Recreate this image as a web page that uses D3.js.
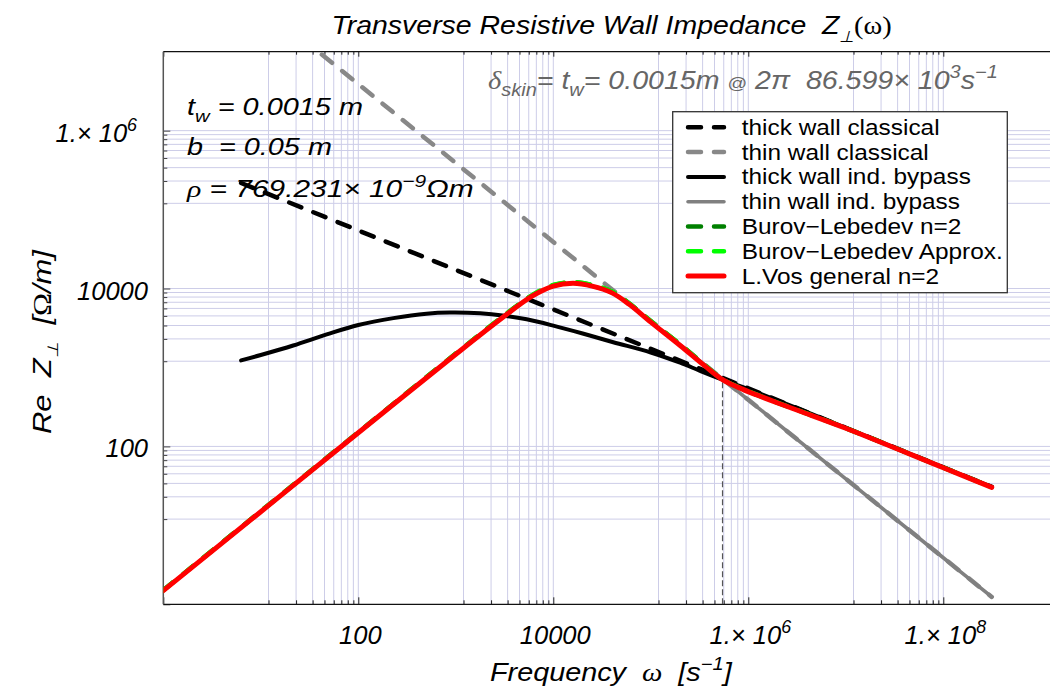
<!DOCTYPE html>
<html>
<head>
<meta charset="utf-8">
<script src="https://cdn.jsdelivr.net/npm/d3@7"></script>
<style>
  body { margin: 0; background: #fff; }
  text { font-family: "Liberation Sans", Arial, Helvetica, sans-serif; white-space: pre; }
</style>
</head>
<body>
<svg id="chart" width="1050" height="692"></svg>
<script>
// ---- Data: angular frequency ω [1/s] and Re Z⊥ [Ω/m] per model ----
const omegaThickClassical = [6.28, 10, 100, 1e3, 1e4, 1e5, 1e6, 1e7, 1e8, 3.14e8];
const zThickClassical     = [2.17e5, 1.72e5, 5.44e4, 1.72e4, 5440, 1720, 544, 172, 54.4, 30.7];

const omegaThinClassical  = [6.28, 10, 100, 1e3, 1e4, 1e5, 1e6, 1e7, 1e8, 3.14e8];
const zThinClassical      = [6.2e7, 3.89e7, 3.89e6, 3.89e5, 3.89e4, 3890, 389, 38.9, 3.89, 1.24];

const omegaThickBypass = [6.28, 10, 21.5, 47.4, 100, 229, 501, 871, 1780, 3160, 5330, 1e4, 2e4, 4.12e4, 1e5, 2e5, 3.16e5, 5.44e5, 1e6, 3.16e6, 1e7, 1e8, 3.14e8];
const zThickBypass     = [1230, 1440, 1900, 2620, 3450, 4220, 4800, 4960, 4853, 4519, 4074, 3388, 2692, 2089, 1549, 1148, 912, 700, 531, 305, 172, 54.3, 30.7];

const omegaThinBypass = [1, 10, 100, 1e3, 3e3, 6e3, 1e4, 1.6e4, 2.5e4, 4e4, 6e4, 1e5, 2e5, 3.5e5, 5.44e5, 1e6, 1e7, 1e8, 3.14e8];
const zThinBypass     = [1.49, 14.9, 149, 1472, 4266, 7943, 10720, 11640, 10720, 8810, 6310, 3758, 1928, 1104, 713, 389, 38.9, 3.89, 1.24];

const omegaGeneral = [1, 10, 100, 1e3, 3e3, 6e3, 1e4, 1.6e4, 2.5e4, 4e4, 6e4, 1e5, 2e5, 3.5e5, 5.44e5, 8e5, 1.2e6, 2e6, 3.4e6, 1e7, 1e8, 3.14e8];
const zBurovLebedev   = [1.51, 15.1, 151, 1500, 4365, 8128, 11000, 11960, 11050, 9080, 6457, 3846, 1950, 1090, 707, 561, 457, 358, 281, 171, 54.0, 30.5];
const zBurovApprox    = [1.51, 15.1, 151, 1500, 4385, 8180, 11100, 12050, 11130, 9150, 6500, 3870, 1960, 1092, 707, 560, 456, 357, 280, 170, 53.9, 30.4];
const zVosGeneral     = [1.49, 14.9, 149, 1472, 4266, 7943, 10720, 11640, 10720, 8810, 6310, 3758, 1897, 1072, 700, 556, 452, 355, 279, 170, 53.7, 30.3];

// skin depth equals wall thickness at ω = 2π·86.599e3 s⁻¹
const skinOmega = 5.441e5;
const skinZ = 700;

// axis ticks
const xMajorTicks = [1, 100, 1e4, 1e6, 1e8];
const xTickLabels = [null, ["100"], ["10000"], ["1.\u00d7 10", "6"], ["1.\u00d7 10", "8"]];
const yMajorTicks = [1, 100, 1e4, 1e6];
const yTickLabels = [null, ["100"], ["10000"], ["1.\u00d7 10", "6"]];

const legendNames = ["thick wall classical", "thin wall classical", "thick wall ind. bypass",
  "thin wall ind. bypass", "Burov\u2212Lebedev n=2", "Burov\u2212Lebedev Approx.", "L.Vos general n=2"];

// ---- Layout ----
const svg = d3.select("#chart");
const X0 = 163.3, XR = 1050, Y0 = 604.3, Y1 = 51.7;
const x = d3.scaleLog().domain([1, 1e9]).range([X0, X0 + 9 * 97.5]);
const y = d3.scaleLog().domain([1, 1e7]).range([Y0, Y1]);

const gridColor = "#cdcde8";
const minorsOf = majors => majors.flatMap(m => d3.range(1, 9).map(k => m * (1 + 11 * k)));
const xMinor = minorsOf(xMajorTicks).filter(v => x(v) < XR - 3);
const yMinor = minorsOf(yMajorTicks).filter(v => y(v) > Y1);

// grid lines at every tick
const grid = svg.append("g");
grid.selectAll("line.v").data(xMajorTicks.concat(xMinor).filter(v => v > 1)).join("line")
  .attr("x1", d => x(d)).attr("x2", d => x(d)).attr("y1", Y1).attr("y2", Y0)
  .attr("stroke", gridColor).attr("stroke-width", 1);
grid.selectAll("line.h").data(yMajorTicks.concat(yMinor).filter(v => v > 1)).join("line")
  .attr("x1", X0).attr("x2", XR).attr("y1", d => y(d)).attr("y2", d => y(d))
  .attr("stroke", gridColor).attr("stroke-width", 1);

// ticks drawn with d3 axes, pointing into the frame
function ticks(axisFn, scale, values, size, transform, color) {
  const g = svg.append("g").attr("transform", transform)
    .call(axisFn(scale).tickValues(values).tickSize(size).tickSizeOuter(0).tickFormat(""));
  g.select(".domain").remove();
  g.selectAll(".tick line").attr("stroke", color).attr("stroke-width", 1);
}
ticks(d3.axisBottom, x, xMinor, -4, `translate(0,${Y0})`, "#222");
ticks(d3.axisBottom, x, xMajorTicks, -7, `translate(0,${Y0})`, "#222");
ticks(d3.axisTop, x, xMinor, -3, `translate(0,${Y1})`, "#222");
ticks(d3.axisTop, x, xMajorTicks, -5, `translate(0,${Y1})`, "#222");
ticks(d3.axisLeft, y, yMinor, -4, `translate(${X0},0)`, "#444");
ticks(d3.axisLeft, y, yMajorTicks, -7, `translate(${X0},0)`, "#444");

// frame
svg.append("line").attr("x1", X0).attr("x2", XR).attr("y1", Y0).attr("y2", Y0).attr("stroke", "#111").attr("stroke-width", 1.3);
svg.append("line").attr("x1", X0).attr("x2", XR).attr("y1", Y1).attr("y2", Y1).attr("stroke", "#111").attr("stroke-width", 1.3);
svg.append("line").attr("x1", X0).attr("x2", X0).attr("y1", Y1).attr("y2", Y0).attr("stroke", "#555").attr("stroke-width", 1.5);

// curves
svg.append("clipPath").attr("id", "plotArea").append("rect")
  .attr("x", X0).attr("y", Y1).attr("width", XR - X0).attr("height", Y0 - Y1);
const plot = svg.append("g").attr("clip-path", "url(#plotArea)");

// skin-depth marker
plot.append("line").attr("x1", x(skinOmega)).attr("x2", x(skinOmega))
  .attr("y1", y(1)).attr("y2", y(skinZ))
  .attr("stroke", "#555").attr("stroke-width", 1.2).attr("stroke-dasharray", "6,3");

const line = d3.line().x(d => x(d[0])).y(d => y(d[1])).curve(d3.curveCatmullRom.alpha(0.5));
const series = [
  { om: omegaThickClassical, z: zThickClassical, color: "#000000", w: 4.5, dash: "13,13" },
  { om: omegaThinClassical,  z: zThinClassical,  color: "#888888", w: 4.5, dash: "13,13" },
  { om: omegaThickBypass,    z: zThickBypass,    color: "#000000", w: 4,   dash: null },
  { om: omegaThinBypass,     z: zThinBypass,     color: "#808080", w: 3.6, dash: null },
  { om: omegaGeneral,        z: zBurovLebedev,   color: "#008000", w: 4.5, dash: "13,13" },
  { om: omegaGeneral,        z: zBurovApprox,    color: "#00ff00", w: 4.5, dash: "13,13" },
  { om: omegaGeneral,        z: zVosGeneral,     color: "#ff0000", w: 5,   dash: null }
];
series.forEach(s => {
  plot.append("path").datum(s.om.map((o, i) => [o, s.z[i]]))
    .attr("d", line).attr("fill", "none")
    .attr("stroke", s.color).attr("stroke-width", s.w)
    .attr("stroke-linecap", "round").attr("stroke-linejoin", "round")
    .attr("stroke-dasharray", s.dash);
});

// ---- Text helpers ----
const SERIF = "'Liberation Serif','Times New Roman',serif";
function rich(parent, x0, y0, parts, o) {
  const t = parent.append("text").attr("x", x0).attr("y", y0)
    .attr("font-size", o.size).attr("fill", o.fill || "#000")
    .attr("font-style", o.upright ? "normal" : "italic").attr("text-anchor", o.anchor || "start");
  let shift = 0;
  parts.forEach(p => {
    if (typeof p === "string") p = { t: p };
    const target = p.sub ? o.size * 0.28 : p.sup ? -o.size * 0.42 : 0;
    const s = t.append("tspan").text(p.t).attr("dy", target - shift);
    shift = target;
    if (p.sub || p.sup) s.attr("font-size", o.size * (p.scale || 0.7));
    if (p.size) s.attr("font-size", p.size);
    if (p.serif) s.attr("font-family", SERIF);
    if (p.upright) s.attr("font-style", "normal");
  });
  if (o.width) {
    const w = t.node().getBBox().width;
    const k = o.width / w;
    t.attr("transform", `translate(${x0},0) scale(${k},1) translate(${-x0},0)`);
  }
  return t;
}

// title
rich(svg, 331.5, 34.5, ["Transverse Resistive Wall Impedance  Z", { t: "\u22a5", sub: true, scale: 0.6 },
  { t: "(\u03c9)", serif: true, upright: true }], { size: 26, width: 561 });

// wall parameters
rich(svg, 187, 115, ["t", { t: "w", sub: true }, " = 0.0015 m"], { size: 24, width: 176 });
rich(svg, 187, 155, ["b  = 0.05 m"], { size: 24, width: 145 });
rich(svg, 187, 197, [{ t: "\u03c1", serif: true }, " = 769.231\u00d7 10", { t: "\u22129", sup: true }, "\u03a9m"], { size: 24, width: 288 });

// skin depth note
rich(svg, 488, 89, [{ t: "\u03b4", serif: true }, { t: "skin", sub: true }, "= t", { t: "w", sub: true },
  "= 0.0015m ", { t: "@", upright: true, size: 17 }, " 2\u03c0  86.599\u00d7 10", { t: "3", sup: true },
  "s", { t: "\u22121", sup: true }], { size: 25, fill: "#666", width: 510 });

// tick labels
xMajorTicks.forEach((v, i) => {
  const lab = xTickLabels[i]; if (!lab) return;
  const parts = lab.length > 1 ? [lab[0], { t: lab[1], sup: true }] : [lab[0]];
  rich(svg, x(v) + 2, 643.5, parts, { size: 25.5, anchor: "middle" });
});
yMajorTicks.forEach((v, i) => {
  const lab = yTickLabels[i]; if (!lab) return;
  const parts = lab.length > 1 ? [lab[0], { t: lab[1], sup: true }] : [lab[0]];
  rich(svg, lab.length > 1 ? 137 : 148, y(v) + 11, parts, { size: 25.5, anchor: "end" });
});

// axis labels
rich(svg, 490, 681, ["Frequency  ", { t: "\u03c9", serif: true }, "  [s", { t: "\u22121", sup: true }, "]"], { size: 25, width: 243 });
const yl = svg.append("g").attr("transform", "translate(51,342) rotate(-90)");
rich(yl, -92, 0, ["Re  Z", { t: "\u22a5", sub: true, scale: 0.6 }, "  [", { t: "\u03a9", serif: true, upright: true }, "/m]"], { size: 25, width: 185 });

// legend
const lg = svg.append("g");
lg.append("rect").attr("x", 672.7).attr("y", 111.7).attr("width", 334.6).attr("height", 181)
  .attr("fill", "#fff").attr("stroke", "#333").attr("stroke-width", 1.3);
let legendScale = null;
legendNames.forEach((name, i) => {
  const s = series[i];
  const ly = 127.3 + 24.8 * i;
  lg.append("line").attr("x1", 688).attr("x2", 724).attr("y1", ly).attr("y2", ly)
    .attr("stroke", s.color).attr("stroke-width", s.w)
    .attr("stroke-linecap", "round").attr("stroke-dasharray", s.dash ? "13,13" : null);
  const t = lg.append("text").attr("x", 741.7).attr("y", ly + 7.5).attr("font-size", 21.4).text(name);
  if (legendScale === null) legendScale = 198 / t.node().getBBox().width;
  t.attr("transform", `translate(741.7,0) scale(${legendScale},1) translate(-741.7,0)`);
});
</script>
</body>
</html>
